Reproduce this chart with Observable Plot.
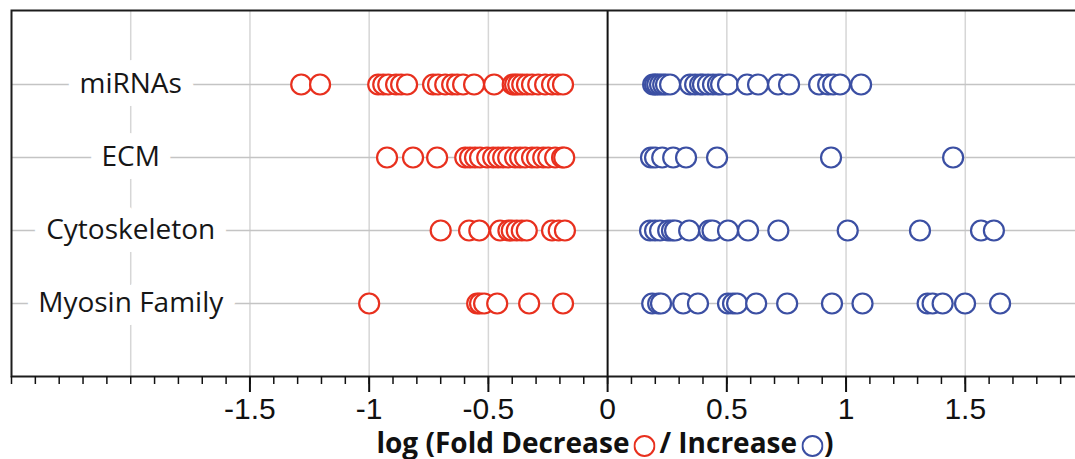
<!DOCTYPE html>
<html>
<head>
<meta charset="utf-8">
<script src="https://cdn.jsdelivr.net/npm/d3@7"></script>
<script src="https://cdn.jsdelivr.net/npm/@observablehq/plot@0.6"></script>
<style>
  html, body { margin: 0; padding: 0; background: white; overflow: hidden; }
  #chart { position: relative; width: 1075px; height: 459px; }
  #xlabel {
    position: absolute; left: 605px; top: 425px; transform: translateX(-50%);
    white-space: nowrap; font: bold 28px "Open Sans", sans-serif; line-height: 34px; color: #111;
  }
  #xlabel svg { vertical-align: -4px; }
</style>
</head>
<body>
<div id="chart"></div>
<script>
// Gene groups, top to bottom
const categories = ["miRNAs", "ECM", "Cytoskeleton", "Myosin Family"];

// log fold change per gene, split by direction
const mirnaDown = [-1.285, -1.206, -0.962, -0.941, -0.920, -0.887, -0.866, -0.841, -0.732, -0.711, -0.681, -0.652, -0.631, -0.606, -0.560, -0.476, -0.398, -0.388, -0.375, -0.358, -0.338, -0.317, -0.291, -0.262, -0.233, -0.208, -0.187];
const mirnaUp = [0.191, 0.199, 0.208, 0.220, 0.233, 0.245, 0.262, 0.346, 0.367, 0.388, 0.400, 0.421, 0.442, 0.463, 0.476, 0.505, 0.585, 0.631, 0.715, 0.761, 0.887, 0.925, 0.946, 0.975, 1.063];
const ecmDown = [-0.925, -0.816, -0.715, -0.597, -0.577, -0.556, -0.535, -0.505, -0.480, -0.459, -0.438, -0.417, -0.388, -0.367, -0.346, -0.317, -0.296, -0.270, -0.249, -0.220, -0.191, -0.182];
const ecmUp = [0.182, 0.199, 0.229, 0.275, 0.329, 0.459, 0.937, 1.449];
const cytoDown = [-0.700, -0.581, -0.538, -0.451, -0.416, -0.402, -0.381, -0.360, -0.339, -0.233, -0.205, -0.179];
const cytoUp = [0.178, 0.199, 0.220, 0.254, 0.270, 0.283, 0.342, 0.426, 0.440, 0.505, 0.589, 0.716, 1.007, 1.310, 1.566, 1.620];
const myosinDown = [-1.000, -0.547, -0.535, -0.518, -0.463, -0.329, -0.187];
const myosinUp = [0.187, 0.212, 0.224, 0.317, 0.379, 0.505, 0.526, 0.543, 0.623, 0.753, 0.941, 1.069, 1.342, 1.363, 1.405, 1.499, 1.646];

// Axis ticks
const majorTicks = [-1.5, -1, -0.5, 0, 0.5, 1, 1.5];
const minorTicks = d3.range(-25, 21).map(i => i / 10);
const gridLines = [-2, -1.5, -1, -0.5, 0.5, 1, 1.5, 2];

const decreaseColor = "#e8301e";
const increaseColor = "#3b4fa3";
const labelAt = -2;

const rows = [];
const series = [
  ["miRNAs", mirnaDown, "decrease"], ["miRNAs", mirnaUp, "increase"],
  ["ECM", ecmDown, "decrease"], ["ECM", ecmUp, "increase"],
  ["Cytoskeleton", cytoDown, "decrease"], ["Cytoskeleton", cytoUp, "increase"],
  ["Myosin Family", myosinDown, "decrease"], ["Myosin Family", myosinUp, "increase"]
];
for (const [category, values, direction] of series) {
  for (const value of values) rows.push({category, value, direction});
}
// draw left to right so each circle sits on top of its left neighbour
rows.sort((a, b) => a.value - b.value);

const chart = Plot.plot({
  width: 1075,
  height: 425,
  marginTop: 10,
  marginBottom: 49,
  marginLeft: 11,
  marginRight: -9,
  style: {fontFamily: "'Liberation Sans', Arial, sans-serif", fontSize: "30px", color: "#111", background: "white"},
  x: {domain: [-2.5, 2]},
  y: {type: "point", domain: categories, padding: 1, axis: null},
  color: {domain: ["decrease", "increase"], range: [decreaseColor, increaseColor]},
  marks: [
    Plot.ruleX(gridLines, {stroke: "#d6d6d6", strokeWidth: 1.5}),
    Plot.ruleY(categories, {stroke: "#c4c4c4", strokeWidth: 1.5}),
    Plot.text(categories, {
      x: () => labelAt, y: d => d, text: d => d,
      fontFamily: "'Open Sans', sans-serif", fontSize: 28, fill: "#161616",
      stroke: "white", strokeWidth: 26, strokeLinejoin: "round"
    }),
    Plot.ruleX([0], {stroke: "#111", strokeWidth: 2}),
    Plot.dot(rows, {x: "value", y: "category", r: 10, stroke: "direction", fill: "white", strokeWidth: 2.2}),
    Plot.frame({stroke: "#1c1c1c", strokeWidth: 2}),
    Plot.axisX({ticks: minorTicks, tickSize: 8, tickFormat: () => "", label: null, strokeWidth: 1.5}),
    Plot.axisX({ticks: majorTicks, tickSize: 16, tickPadding: 5, tickFormat: d => String(d), label: null, strokeWidth: 2, fontSize: 30})
  ]
});

const root = document.getElementById("chart");
root.appendChild(chart);

// Axis title with the two marker keys inline
const ring = color => `<svg width="22" height="22"><circle cx="11" cy="11" r="10" fill="white" stroke="${color}" stroke-width="2"/></svg>`;
const title = document.createElement("div");
title.id = "xlabel";
title.innerHTML = `log (Fold Decrease<span style="margin:0 4px 0 4px">${ring(decreaseColor)}</span>/ Increase<span style="margin:0 1px 0 4px">${ring(increaseColor)}</span>)`;
root.appendChild(title);
</script>
</body>
</html>
